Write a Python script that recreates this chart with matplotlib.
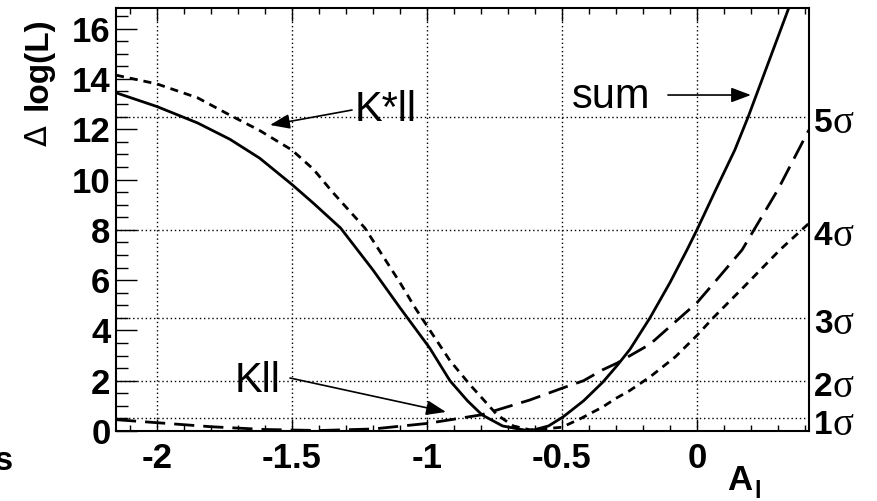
import matplotlib
matplotlib.use("Agg")
import matplotlib.pyplot as plt
from matplotlib.ticker import MultipleLocator, FixedLocator

plt.rcParams['lines.scale_dashes'] = False
plt.rcParams['font.family'] = ['Liberation Sans', 'DejaVu Sans']

# ---- data ----
sum_x = [-2.152, -2.0, -1.85, -1.73, -1.62, -1.5, -1.42, -1.32, -1.2, -1.1, -0.99,
         -0.915, -0.85, -0.796, -0.72, -0.62, -0.55, -0.496, -0.42, -0.348, -0.296,
         -0.248, -0.174, -0.1, -0.037, 0.0, 0.07, 0.14, 0.19, 0.34, 0.37]
sum_y = [13.45, 12.9, 12.25, 11.6, 10.85, 9.8, 9.05, 8.07, 6.4, 4.9, 3.3,
         2.0, 1.2, 0.64, 0.2, 0.0, 0.2, 0.56, 1.2, 1.95, 2.6,
         3.25, 4.5, 5.9, 7.2, 8.0, 9.6, 11.17, 12.5, 16.82, 17.7]

kstar_x = [-2.152, -2.0, -1.85, -1.73, -1.62, -1.5, -1.42, -1.35, -1.23, -1.1, -1.044,
           -0.989, -0.915, -0.84, -0.74, -0.68, -0.62, -0.55, -0.5, -0.43, -0.35,
           -0.3, -0.25, -0.174, -0.08, 0.0, 0.06, 0.18, 0.307, 0.419]
kstar_y = [14.15, 13.8, 13.25, 12.56, 11.95, 11.17, 10.4, 9.5, 8.07, 5.9, 4.9,
           4.0, 2.8, 1.83, 0.64, 0.2, 0.05, 0.1, 0.15, 0.5, 0.95,
           1.3, 1.6, 2.15, 2.95, 3.8, 4.5, 5.8, 7.2, 8.3]

kll_x = [-2.152, -2.0, -1.8, -1.6, -1.4, -1.2, -1.0, -0.8, -0.62, -0.5, -0.42,
         -0.35, -0.296, -0.174, -0.074, 0.0, 0.08, 0.167, 0.3, 0.411, 0.42]
kll_y = [0.45, 0.33, 0.17, 0.06, 0.02, 0.08, 0.3, 0.64, 1.23, 1.7, 2.0,
         2.43, 2.7, 3.45, 4.4, 5.1, 6.1, 7.2, 9.6, 11.9, 12.05]

x_ticks = [-2, -1.5, -1, -0.5, 0]
x_tick_labels = ['-2', '-1.5', '-1', '-0.5', '0']
y_ticks = [0, 2, 4, 6, 8, 10, 12, 14, 16]
sigma_levels = [0.5, 2.0, 4.5, 8.0, 12.5]
sigma_labels = ['1', '2', '3', '4', '5']

W, H = 877, 501
fig = plt.figure(figsize=(W / 100, H / 100), dpi=100)
ax = fig.add_axes([116 / W, 1 - 431 / H, (809 - 116) / W, (431 - 8) / H])
ax.set_xlim(-2.152, 0.415)
ax.set_ylim(0, 16.82)

# grid
dot = (0, (1.0, 2.0))
for xv in x_ticks:
    ax.axvline(xv, color='black', lw=1.0, linestyle=dot, zorder=1)
for yv in sigma_levels:
    ax.axhline(yv, color='black', lw=1.0, linestyle=dot, zorder=1)

# curves
ax.plot(sum_x, sum_y, color='black', lw=2.0, solid_joinstyle='round', zorder=3)
ax.plot(kstar_x, kstar_y, color='black', lw=2.0, linestyle=(0, (5.8, 4.3)), zorder=3)
ax.plot(kll_x, kll_y, color='black', lw=2.0, linestyle=(0, (14.5, 6.5)), zorder=3)

# ticks
ax.xaxis.set_major_locator(FixedLocator(x_ticks))
ax.set_xticklabels(x_tick_labels)
ax.xaxis.set_minor_locator(MultipleLocator(0.1))
ax.yaxis.set_major_locator(FixedLocator(y_ticks))
ax.yaxis.set_minor_locator(MultipleLocator(0.5))
ax.tick_params(axis='both', which='both', direction='in', width=1.0, top=True, right=False)
ax.tick_params(axis='x', which='major', length=9, pad=8, labelsize=25)
ax.tick_params(axis='x', which='minor', length=4.5)
ax.tick_params(axis='y', which='major', length=15, pad=4, labelsize=25)
ax.tick_params(axis='y', which='minor', length=8.5)
for lab in ax.get_xticklabels() + ax.get_yticklabels():
    lab.set_fontweight('bold')
for sp in ax.spines.values():
    sp.set_linewidth(1.5)

def px2data(px, py):
    return (-2.0 + (px - 157) / 270.0, (431 - py) / 25.15)

# annotations
txt_kw = dict(fontsize=30, ha='center', va='center', color='black')
ax.text(*px2data(386, 110), 'K*ll', **txt_kw)
ax.text(*px2data(611, 97), 'sum', **txt_kw)
ax.text(*px2data(258, 381), 'Kll', **txt_kw)
arrow = dict(arrowstyle='-|>,head_length=1.2,head_width=0.45', mutation_scale=10,
             color='black', lw=1.2, shrinkA=0, shrinkB=0)
ax.annotate('', xy=px2data(270, 125), xytext=px2data(352, 110), arrowprops=arrow)
ax.annotate('', xy=px2data(751, 95), xytext=px2data(668, 95), arrowprops=arrow)
ax.annotate('', xy=px2data(446, 412), xytext=px2data(290, 378), arrowprops=arrow)

# sigma labels on the right
def fpos(px, py):
    return (px / W, 1 - py / H)

for lev, lab in zip(sigma_levels, sigma_labels):
    py = 431 - lev * 25.15 + 7
    fig.text(*fpos(814, py), lab, fontsize=24, fontweight='bold', ha='left', va='center')
    fig.text(*fpos(832, py), 'σ', fontsize=28, family='Liberation Serif', ha='left', va='center')

# y label
fig.text(*fpos(38, 64), 'log(L)', fontsize=24, fontweight='bold', rotation=90,
         ha='center', va='center')
fig.text(*fpos(38, 136), 'Δ', fontsize=22, family='DejaVu Sans', rotation=90,
         ha='center', va='center')

# x label
fig.text(*fpos(740, 481), 'A', fontsize=25, fontweight='bold', ha='center', va='center')
fig.text(*fpos(758, 492), 'l', fontsize=17, fontweight='bold', ha='center', va='center')

# stray clipped text at lower left
fig.text(*fpos(14, 461), 'ns', fontsize=24, fontweight='bold', ha='right', va='center')

fig.savefig('out.png', dpi=100)
